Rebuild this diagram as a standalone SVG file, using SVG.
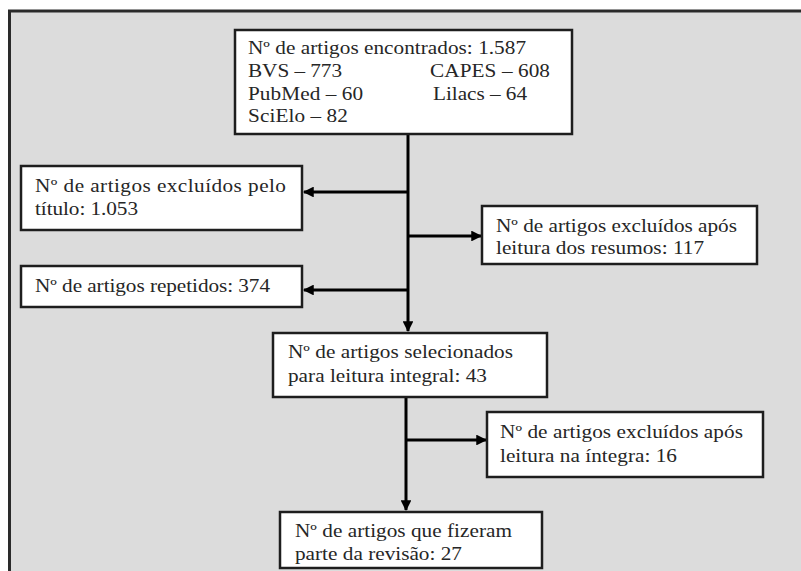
<svg xmlns="http://www.w3.org/2000/svg" width="801" height="571" viewBox="0 0 801 571">
<style>
.box{fill:#ffffff;stroke:#1e1e1e;stroke-width:2.5}
.t{font-family:"Times New Roman","Liberation Serif",serif;font-size:18px;fill:#262626}
.c{fill:none;stroke:#000000;stroke-width:3}
</style>
<defs>
<marker id="ah" viewBox="0 0 10 10" refX="9" refY="5" markerWidth="4" markerHeight="3.6" markerUnits="strokeWidth" orient="auto">
<path d="M0,0 L10,5 L0,10 Z" fill="#000000"/>
</marker>
</defs>
<rect x="0" y="0" width="801" height="571" fill="#ffffff"/>
<rect x="9.5" y="11" width="900" height="700" fill="#dcdcdc" stroke="#2a2a2a" stroke-width="3"/>
<g id="connectors">
<line class="c" x1="408" y1="135" x2="408" y2="331" marker-end="url(#ah)"/>
<line class="c" x1="408" y1="192" x2="304" y2="192" marker-end="url(#ah)"/>
<line class="c" x1="408" y1="236" x2="481" y2="236" marker-end="url(#ah)"/>
<line class="c" x1="408" y1="290" x2="304" y2="290" marker-end="url(#ah)"/>
<line class="c" x1="406" y1="397" x2="406" y2="510" marker-end="url(#ah)"/>
<line class="c" x1="406" y1="440" x2="486" y2="440" marker-end="url(#ah)"/>
</g>
<g id="n1">
<rect class="box" x="235" y="30" width="337" height="104"/>
<text class="t" transform="translate(248,54) scale(1.18,1)" textLength="235.6" lengthAdjust="spacing">Nº de artigos encontrados: 1.587</text>
<text class="t" transform="translate(248,77) scale(1.18,1)" textLength="79.7" lengthAdjust="spacing">BVS – 773</text>
<text class="t" transform="translate(430,77) scale(1.18,1)" textLength="101.7" lengthAdjust="spacing">CAPES – 608</text>
<text class="t" transform="translate(248,100) scale(1.18,1)" textLength="97.5" lengthAdjust="spacing">PubMed – 60</text>
<text class="t" transform="translate(433,100) scale(1.18,1)" textLength="79.7" lengthAdjust="spacing">Lilacs – 64</text>
<text class="t" transform="translate(248,122) scale(1.18,1)" textLength="84.7" lengthAdjust="spacing">SciElo – 82</text>
</g>
<g id="n2">
<rect class="box" x="21" y="166" width="281" height="64"/>
<text class="t" transform="translate(35,192) scale(1.18,1)" textLength="212.7" lengthAdjust="spacing">Nº de artigos excluídos pelo</text>
<text class="t" transform="translate(35,215) scale(1.18,1)" textLength="87.3" lengthAdjust="spacing">título: 1.053</text>
</g>
<g id="n3">
<rect class="box" x="482" y="206" width="275" height="58"/>
<text class="t" transform="translate(496,232) scale(1.18,1)" textLength="204.2" lengthAdjust="spacing">Nº de artigos excluídos após</text>
<text class="t" transform="translate(496,254) scale(1.18,1)" textLength="176.3" lengthAdjust="spacing">leitura dos resumos: 117</text>
</g>
<g id="n4">
<rect class="box" x="21" y="266" width="281" height="41"/>
<text class="t" transform="translate(35,292) scale(1.18,1)" textLength="199.2" lengthAdjust="spacing">Nº de artigos repetidos: 374</text>
</g>
<g id="n5">
<rect class="box" x="273" y="333" width="274" height="64"/>
<text class="t" transform="translate(288,358) scale(1.18,1)" textLength="190.7" lengthAdjust="spacing">Nº de artigos selecionados</text>
<text class="t" transform="translate(288,382) scale(1.18,1)" textLength="168.6" lengthAdjust="spacing">para leitura integral: 43</text>
</g>
<g id="n6">
<rect class="box" x="487" y="412" width="276" height="65"/>
<text class="t" transform="translate(500,438) scale(1.18,1)" textLength="205.9" lengthAdjust="spacing">Nº de artigos excluídos após</text>
<text class="t" transform="translate(500,462) scale(1.18,1)" textLength="150" lengthAdjust="spacing">leitura na íntegra: 16</text>
</g>
<g id="n7">
<rect class="box" x="280" y="512" width="262" height="56"/>
<text class="t" transform="translate(295,537) scale(1.18,1)" textLength="183.9" lengthAdjust="spacing">Nº de artigos que fizeram</text>
<text class="t" transform="translate(295,560) scale(1.18,1)" textLength="141.5" lengthAdjust="spacing">parte da revisão: 27</text>
</g>
</svg>
